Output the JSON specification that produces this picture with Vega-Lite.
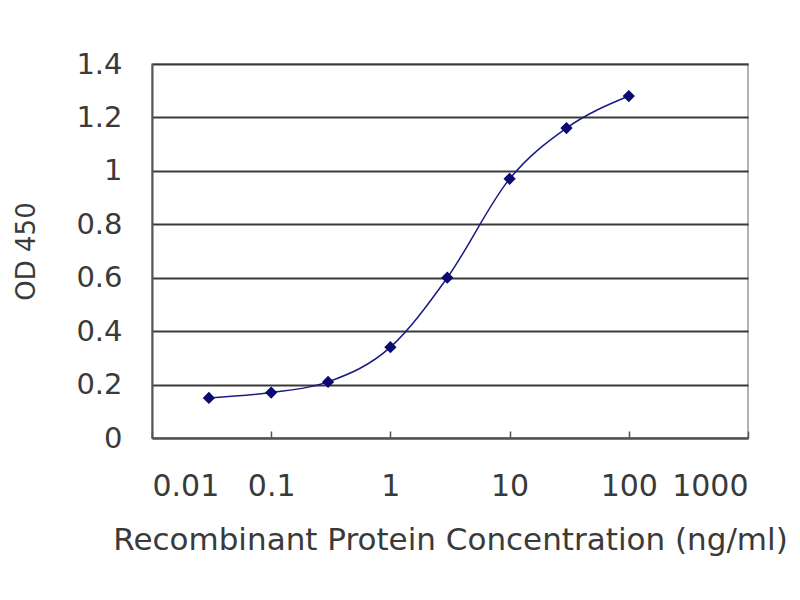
{
  "$schema": "https://vega.github.io/schema/vega-lite/v6.json",
  "autosize": "none",
  "width": 596,
  "height": 374,
  "padding": {"left": 152, "top": 64, "right": 52, "bottom": 162},
  "background": "white",
  "data": {
    "values": [
      {"conc": 0.03, "od": 0.15},
      {"conc": 0.1, "od": 0.17},
      {"conc": 0.3, "od": 0.21},
      {"conc": 1, "od": 0.34},
      {"conc": 3, "od": 0.6},
      {"conc": 10, "od": 0.97},
      {"conc": 30, "od": 1.16},
      {"conc": 100, "od": 1.28}
    ]
  },
  "encoding": {
    "x": {
      "field": "conc", "type": "quantitative",
      "scale": {"type": "log", "domain": [0.01, 1000], "nice": false},
      "axis": {
        "title": "Recombinant Protein Concentration (ng/ml)",
        "values": [0.01, 0.1, 1, 10, 100, 1000],
        "labelExpr": "datum.value",
        "grid": false,
        "tickSize": -7,
        "labelPadding": 40,
        "labelFontSize": 30,
        "titleFontSize": 31,
        "titleFontWeight": "normal",
        "titlePadding": 24
      }
    },
    "y": {
      "field": "od", "type": "quantitative",
      "scale": {"domain": [0, 1.4], "nice": false},
      "axis": {
        "title": "OD 450",
        "values": [0, 0.2, 0.4, 0.6, 0.8, 1, 1.2, 1.4],
        "format": "~g",
        "grid": true,
        "ticks": false,
        "labelPadding": 30,
        "labelFontSize": 29,
        "titleFontSize": 26,
        "titleFontWeight": "normal",
        "titlePadding": 36
      }
    }
  },
  "layer": [
    {"mark": {"type": "line", "interpolate": "monotone", "color": "#1a1a80", "strokeWidth": 1.5}},
    {"mark": {"type": "point", "shape": "diamond", "filled": true, "size": 150, "color": "#0a0a70", "opacity": 1}}
  ],
  "config": {
    "font": "DejaVu Sans",
    "view": {"stroke": "#999999", "strokeWidth": 1.5},
    "axis": {
      "domainColor": "#555555",
      "domainWidth": 2,
      "tickColor": "#555555",
      "tickWidth": 1.5,
      "gridColor": "#3a3a3a",
      "gridWidth": 1.8,
      "gridOpacity": 1,
      "labelColor": "#3a3a3a",
      "titleColor": "#3a3a3a"
    }
  }
}
